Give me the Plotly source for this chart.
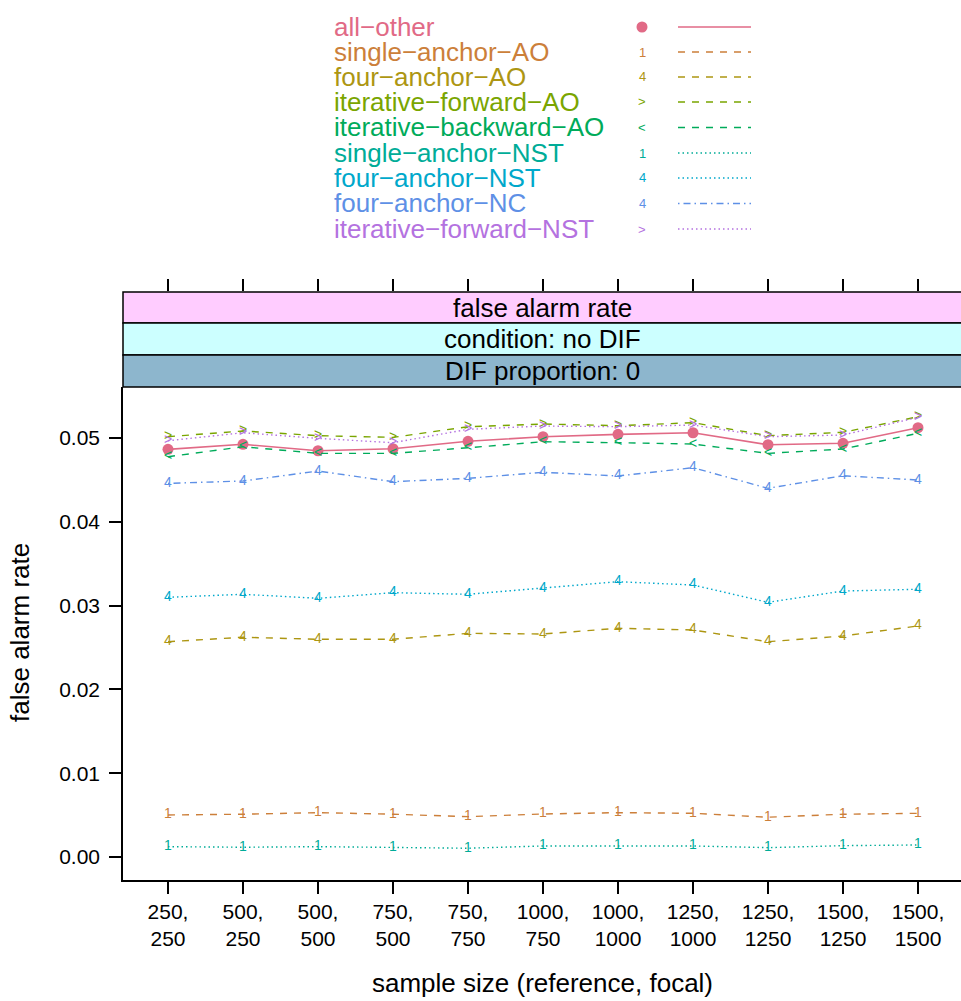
import plotly.graph_objects as go

W, H = 961, 1001

categories = ["250,<br>250", "500,<br>250", "500,<br>500", "750,<br>500", "750,<br>750",
              "1000,<br>750", "1000,<br>1000", "1250,<br>1000", "1250,<br>1250",
              "1500,<br>1250", "1500,<br>1500"]

series_names = ["all−other", "single−anchor−AO", "four−anchor−AO", "iterative−forward−AO",
                "iterative−backward−AO", "single−anchor−NST", "four−anchor−NST",
                "four−anchor−NC", "iterative−forward−NST"]

all_other = [0.04865, 0.04925, 0.04848, 0.04872, 0.04961, 0.05016, 0.05044, 0.05063, 0.0492, 0.04937, 0.05123]
single_anchor_AO = [0.00501, 0.0051, 0.00529, 0.0051, 0.00481, 0.00513, 0.00529, 0.00521, 0.00474, 0.0051, 0.00521]
four_anchor_AO = [0.02569, 0.02622, 0.02598, 0.02598, 0.02669, 0.02661, 0.02729, 0.02709, 0.02569, 0.02637, 0.02757]
iterative_forward_AO = [0.05016, 0.05084, 0.05028, 0.05008, 0.05135, 0.05167, 0.05147, 0.05183, 0.05028, 0.05068, 0.05254]
iterative_backward_AO = [0.04777, 0.04896, 0.04817, 0.04817, 0.04884, 0.04956, 0.04944, 0.04928, 0.04817, 0.04869, 0.05056]
single_anchor_NST = [0.00123, 0.00116, 0.00123, 0.00111, 0.00104, 0.00131, 0.00131, 0.00131, 0.00111, 0.00135, 0.00143]
four_anchor_NST = [0.03099, 0.03135, 0.03087, 0.03154, 0.03135, 0.03206, 0.03285, 0.03246, 0.03039, 0.03174, 0.03195]
four_anchor_NC = [0.04459, 0.04487, 0.04606, 0.04479, 0.04519, 0.04591, 0.04547, 0.04646, 0.044, 0.0455, 0.04499]
iterative_forward_NST = [0.04968, 0.05063, 0.04996, 0.04944, 0.05104, 0.05143, 0.05135, 0.05155, 0.05016, 0.05036, 0.05247]

values = [all_other, single_anchor_AO, four_anchor_AO, iterative_forward_AO, iterative_backward_AO,
          single_anchor_NST, four_anchor_NST, four_anchor_NC, iterative_forward_NST]
symbols = [None, "1", "4", ">", "<", "1", "4", "4", ">"]
colors = ["#E16A86", "#CC7F3A", "#AD9612", "#7AA500", "#00AB5A", "#00AC98",
          "#00A8CB", "#5E90E6", "#B472E0"]
DASH = "7px,7px"
DOT = "1.5px,3px"
DOTDASH = "1.5px,4px,7px,4px"
dashes = ["solid", DASH, DASH, DASH, DASH, DOT, DOT, DOTDASH, DOT]

y_ticks = [0.0, 0.01, 0.02, 0.03, 0.04, 0.05]
strip_labels = ["false alarm rate", "condition: no DIF", "DIF proportion: 0"]
strip_colors = ["#FFCCFF", "#CCFFFF", "#8DB6CD"]

FONT = "Liberation Sans, Arial, Helvetica, sans-serif"


def px_x(x):
    return x / W


def px_y(y):
    return 1 - y / H


fig = go.Figure()

for i, (name, vals) in enumerate(zip(series_names, values)):
    if symbols[i] is None:
        fig.add_trace(go.Scatter(
            x=categories, y=vals, name=name, mode="lines+markers",
            line=dict(color=colors[i], width=1.6, dash=dashes[i]),
            marker=dict(symbol="circle", size=11, color=colors[i]),
            showlegend=False, cliponaxis=False))
    else:
        fig.add_trace(go.Scatter(
            x=categories, y=vals, name=name, mode="lines+text",
            text=[symbols[i]] * len(vals), textposition="middle center",
            textfont=dict(color=colors[i], size=14, family=FONT),
            line=dict(color=colors[i], width=1.4, dash=dashes[i]),
            showlegend=False, cliponaxis=False))

# invisible trace to create the top-tick axis above the strips
fig.add_trace(go.Scatter(x=[0], y=[0], xaxis="x2", yaxis="y2", mode="markers",
                         marker=dict(opacity=0), showlegend=False, hoverinfo="skip"))

ybot, ytop = 880, 387
x_dom = [px_x(123), 1.0]
span_units = 11.2 * (961 - 123) / (963 - 123)
xr = [-0.6, -0.6 + span_units]

fig.update_layout(
    width=W, height=H,
    margin=dict(l=0, r=0, t=0, b=0),
    paper_bgcolor="white", plot_bgcolor="white",
    font=dict(family=FONT, color="black"),
    xaxis=dict(domain=x_dom, range=xr, type="category", showgrid=False, zeroline=False,
               showline=True, linecolor="black", linewidth=1.5, mirror=False,
               ticks="outside", ticklen=12, tickwidth=1.5, tickcolor="black",
               tickfont=dict(size=21, family=FONT), automargin=False, anchor="y",
               categoryorder="array", categoryarray=categories),
    yaxis=dict(domain=[px_y(ybot), px_y(ytop)], range=[-0.00275, 0.05609],
               tickvals=y_ticks, ticktext=[f"{v:.2f}" for v in y_ticks],
               showgrid=False, zeroline=False, showline=True, linecolor="black",
               linewidth=1.5, ticks="outside", ticklen=12, tickwidth=1.5, tickcolor="black",
               tickfont=dict(size=21, family=FONT), automargin=False, ticklabelstandoff=5),
    xaxis2=dict(domain=x_dom, range=xr, anchor="y2", side="top", showgrid=False,
                zeroline=False, showline=False, ticks="outside", ticklen=12, tickwidth=1.5,
                tickcolor="black", tickvals=list(range(11)), showticklabels=False,
                automargin=False),
    yaxis2=dict(domain=[px_y(387), px_y(292)], range=[0, 1], visible=False, automargin=False),
)

shapes = []
annotations = []
strip_bounds = [(292, 323), (323, 355), (355, 387)]
for (ya, yb), lab, col in zip(strip_bounds, strip_labels, strip_colors):
    shapes.append(dict(type="rect", xref="paper", yref="paper",
                       x0=px_x(123), x1=px_x(963), y0=px_y(yb), y1=px_y(ya),
                       fillcolor=col, line=dict(color="black", width=1.5), layer="above"))
    annotations.append(dict(text=lab, xref="paper", yref="paper", x=px_x(542),
                            y=px_y((ya + yb) / 2), xanchor="center", yanchor="middle",
                            showarrow=False, font=dict(size=26, family=FONT, color="black")))

annotations.append(dict(text="sample size (reference, focal)", xref="paper", yref="paper",
                        x=px_x(542), y=px_y(983), xanchor="center", yanchor="middle",
                        showarrow=False, font=dict(size=26, family=FONT, color="black")))
annotations.append(dict(text="false alarm rate", xref="paper", yref="paper",
                        x=px_x(20), y=px_y(633), xanchor="center", yanchor="middle",
                        textangle=-90, showarrow=False,
                        font=dict(size=26, family=FONT, color="black")))

row_y = [27, 52, 77, 102, 127.5, 153, 178, 203.5, 229]
for i, name in enumerate(series_names):
    yy = row_y[i]
    annotations.append(dict(text=name, xref="paper", yref="paper", x=px_x(332), y=px_y(yy),
                            xanchor="left", yanchor="middle", showarrow=False,
                            font=dict(size=26, family=FONT, color=colors[i])))
    if symbols[i] is None:
        shapes.append(dict(type="circle", xref="paper", yref="paper",
                           x0=px_x(642 - 5.5), x1=px_x(642 + 5.5),
                           y0=px_y(yy + 5.5), y1=px_y(yy - 5.5),
                           fillcolor=colors[i], line=dict(width=0)))
    else:
        annotations.append(dict(text=symbols[i], xref="paper", yref="paper", x=px_x(642),
                                y=px_y(yy), xanchor="center", yanchor="middle", showarrow=False,
                                font=dict(size=13, family=FONT, color=colors[i])))
    shapes.append(dict(type="line", xref="paper", yref="paper",
                       x0=px_x(678), x1=px_x(751), y0=px_y(yy), y1=px_y(yy),
                       line=dict(color=colors[i], width=1.4, dash=dashes[i])))

fig.update_layout(shapes=shapes, annotations=annotations)

fig.write_html("out.html")
